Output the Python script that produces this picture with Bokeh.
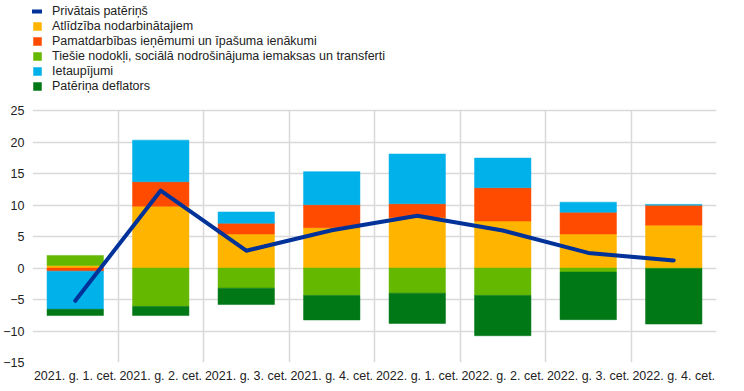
import numpy as np
from bokeh.plotting import figure
from bokeh.models import ColumnDataSource, Legend, LegendItem, FixedTicker, Grid, Range1d
from bokeh.embed import file_html
from bokeh.resources import INLINE

quarters = ["2021. g. 1. cet.", "2021. g. 2. cet.", "2021. g. 3. cet.", "2021. g. 4. cet.",
            "2022. g. 1. cet.", "2022. g. 2. cet.", "2022. g. 3. cet.", "2022. g. 4. cet."]
consumption = [-5.2, 12.3, 2.75, 6.0, 8.3, 5.95, 2.4, 1.2]
compensation = [0.4, 9.8, 5.4, 6.4, 8.0, 7.45, 5.4, 6.8]
operating = [-0.5, 3.9, 1.7, 3.65, 2.2, 5.3, 3.45, 3.15]
taxes = [1.6, -6.1, -3.2, -4.35, -4.0, -4.35, -0.65, -0.1]
savings = [-6.05, 6.6, 1.8, 5.25, 7.9, 4.7, 1.6, 0.15]
deflator = [-1.0, -1.45, -2.6, -3.9, -4.8, -6.4, -7.55, -8.8]
y_ticks = [-15, -10, -5, 0, 5, 10, 15, 20, 25]

names = ["Atlīdzība nodarbinātajiem",
         "Pamatdarbības ieņēmumi un īpašuma ienākumi",
         "Tiešie nodokļi, sociālā nodrošinājuma iemaksas un transferti",
         "Ietaupījumi",
         "Patēriņa deflators"]
line_name = "Privātais patēriņš"
series = [compensation, operating, taxes, savings, deflator]
colors = ["#FFB400", "#FF4B00", "#65B800", "#00B1EA", "#007816"]
line_color = "#003299"

FONT = "Liberation Sans"
FSIZE = "12.5px"
TXT = "#222222"

x = np.arange(len(quarters)) + 0.5
n_cat = len(quarters)

# frame spans whole height; the region above 25 holds the legend
p = figure(output_backend="svg", toolbar_location=None,
           width=728, height=385,
           min_border_left=24, min_border_right=12, min_border_top=4, min_border_bottom=21,
           x_range=Range1d(0, n_cat), y_range=Range1d(-15, 41.83))
p.outline_line_color = None
p.background_fill_color = "white"
p.border_fill_color = "white"

p.xgrid.visible = False
p.ygrid.ticker = FixedTicker(ticks=y_ticks)
p.ygrid.grid_line_color = "#d9d9d9"
p.ygrid.grid_line_width = 1.5
vgrid = Grid(dimension=0, ticker=FixedTicker(ticks=list(range(0, n_cat + 1))),
             grid_line_color="#d9d9d9", grid_line_width=1.5,
             cross_bounds=(y_ticks[0], y_ticks[-1]))
p.add_layout(vgrid)

pos = np.zeros(n_cat)
neg = np.zeros(n_cat)
bar_renderers = []
for vals, col in zip(series, colors):
    v = np.array(vals, dtype=float)
    bottom = np.where(v >= 0, pos, neg)
    top = bottom + v
    pos = np.where(v >= 0, top, pos)
    neg = np.where(v < 0, top, neg)
    src = ColumnDataSource(dict(x=x, bottom=bottom, top=top))
    r = p.vbar(x="x", bottom="bottom", top="top", width=0.66, source=src,
               fill_color=col, line_color=col, line_alpha=0.5, line_width=1)
    bar_renderers.append(r)

lsrc = ColumnDataSource(dict(x=x, y=consumption))
lr = p.line(x="x", y="y", source=lsrc, line_color=line_color, line_width=4,
            line_join="round", line_cap="round")

p.xaxis.ticker = FixedTicker(ticks=list(x))
p.xaxis.major_label_overrides = {float(xx): q for xx, q in zip(x, quarters)}
p.yaxis.ticker = FixedTicker(ticks=y_ticks)
for ax in (p.xaxis[0], p.yaxis[0]):
    ax.axis_line_color = None
    ax.major_tick_line_color = None
    ax.minor_tick_line_color = None
    ax.major_tick_out = 0
    ax.major_tick_in = 0
    ax.major_label_text_font = FONT
    ax.major_label_text_font_size = FSIZE
    ax.major_label_text_color = TXT
p.xaxis.major_label_standoff = 6
p.yaxis.major_label_standoff = 8

items = [LegendItem(label=line_name, renderers=[lr])]
for n, r in zip(names, bar_renderers):
    items.append(LegendItem(label=n, renderers=[r]))
legend = Legend(items=items, location="top_left", orientation="vertical",
                glyph_width=10, glyph_height=10, label_height=10,
                label_standoff=10, spacing=1, padding=0, margin=0,
                border_line_color=None, background_fill_alpha=0,
                label_text_font=FONT, label_text_font_size=FSIZE,
                label_text_color=TXT)
p.add_layout(legend, "center")

open("out.html", "w").write(file_html(p, INLINE))
